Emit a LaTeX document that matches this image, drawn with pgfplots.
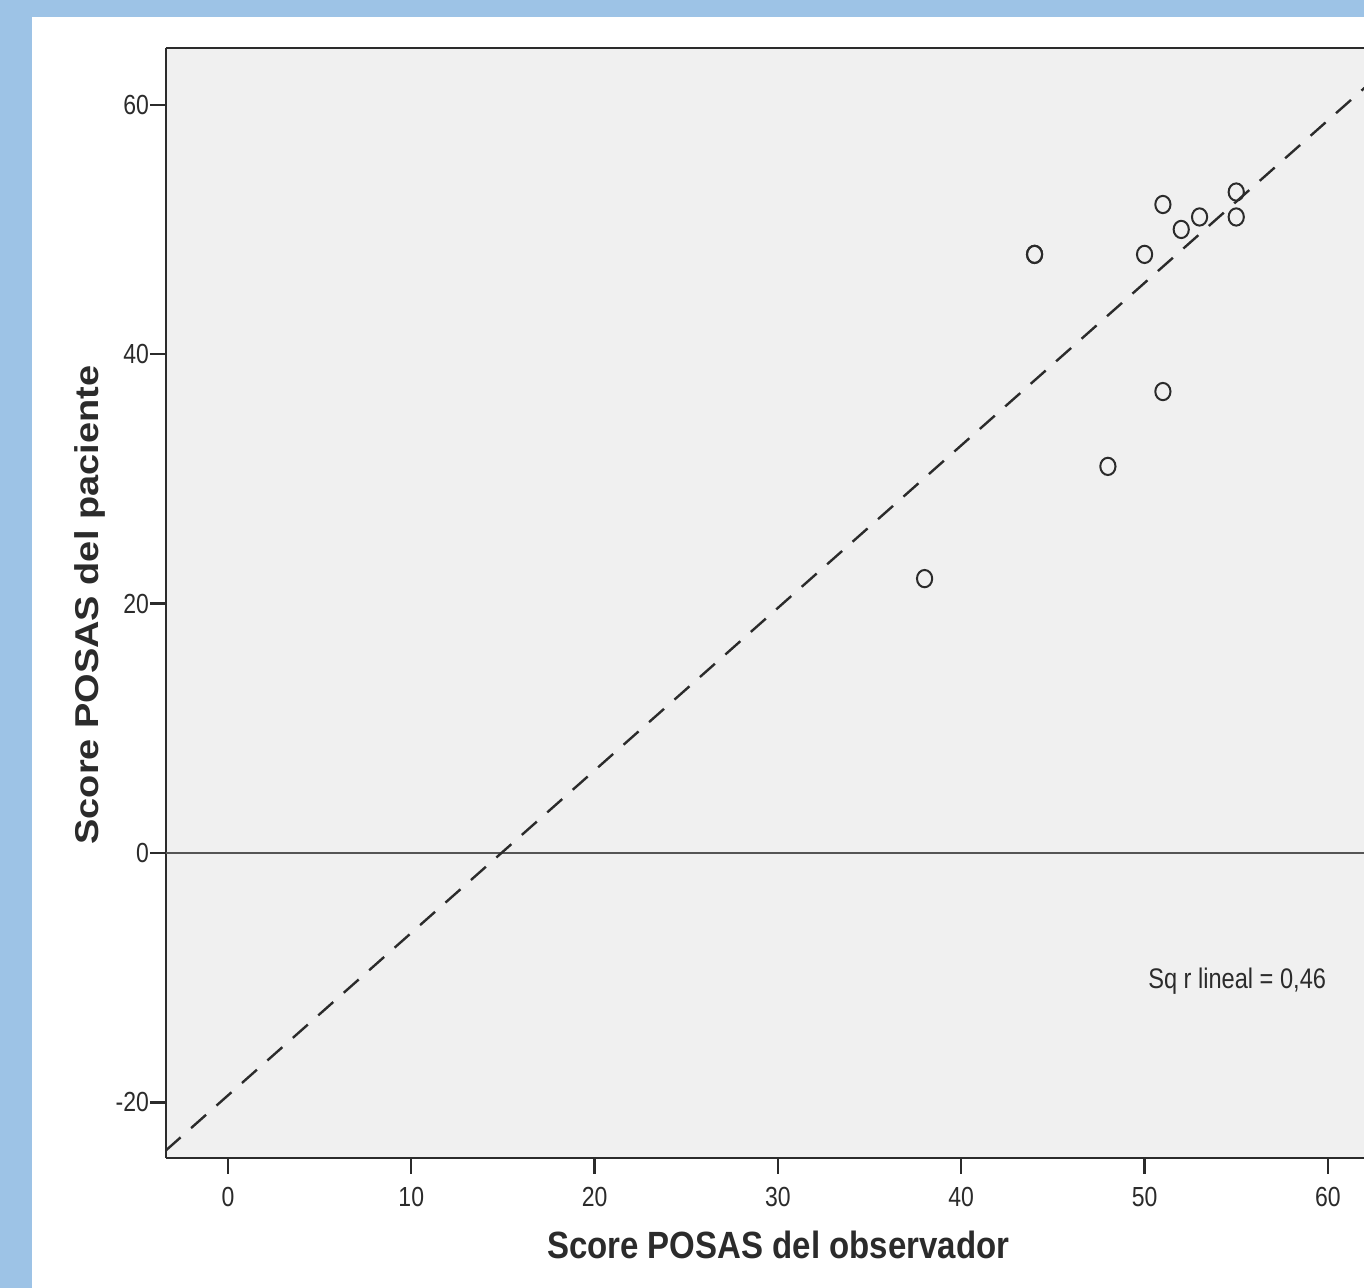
\documentclass[border=0pt]{standalone}
\usepackage{pgfplots}
\pgfplotsset{compat=1.18}
\usepackage{fontspec}
\setmainfont{Liberation Sans}
\definecolor{frameblue}{HTML}{9DC3E6}
\definecolor{plotbg}{HTML}{F0F0F0}
\definecolor{ink}{HTML}{2B2B2B}
\definecolor{zeroline}{HTML}{555555}

\begin{document}
\begin{tikzpicture}
\useasboundingbox (-83pt,-65pt) rectangle (599pt,579pt);
\fill[frameblue] (-83pt,-65pt) rectangle (599pt,579pt);
\fill[white] (-67pt,-65pt) rectangle (599pt,570.5pt);
\begin{axis}[
 scale only axis, width=599pt, height=555pt,
 xmin=-3.38, xmax=61.97, ymin=-24.46, ymax=64.55,
 axis x line*=bottom, axis y line*=left,
 axis line style={ink, line width=1.2pt},
 axis background/.style={fill=plotbg},
 xtick={0,10,...,60}, ytick={-20,0,20,40,60},
 tick align=outside, major tick length=8pt,
 every tick/.style={ink, line width=1.2pt},
 tick label style={font=\fontsize{11.5}{13}\selectfont, text=ink},
 xticklabel style={yshift=-3pt},
 yticklabel style={xshift=3pt},
 /pgf/number format/assume math mode=true,
 xticklabel={\scalebox{1}[1.2]{\pgfmathprintnumber{\tick}}},
 yticklabel={\scalebox{1}[1.2]{\pgfmathprintnumber{\tick}}},
 xlabel={\scalebox{1}[1.15]{Score POSAS del observador}},
 ylabel={\scalebox{1.15}[1]{Score POSAS del paciente}},
 every axis x label/.style={at={(axis description cs:0.511,0)}, yshift=-43.5pt, anchor=center, font=\bfseries\fontsize{16.5}{19}\selectfont, text=ink},
 every axis y label/.style={at={(axis description cs:0,0.498)}, xshift=-38pt, anchor=center, rotate=90, font=\bfseries\fontsize{16.5}{19}\selectfont, text=ink},
 extra description/.code={\draw[ink, line width=1.2pt] (rel axis cs:0,1) -- (rel axis cs:1,1);},
 clip=true,
]
\addplot[zeroline, line width=1pt] coordinates {(-3.38,0) (61.97,0)};
\addplot[ink, line width=1.2pt, dash pattern=on 10pt off 7pt] coordinates {(-3.4,-23.87) (62,61.35)};
\addplot[only marks, mark=o, mark size=4pt, mark options={ink, line width=1pt, xscale=0.95, yscale=1.08}] coordinates {
(38,22) (44,48) (44,48) (48,31) (50,48) (51,52) (51,37) (52,50) (53,51) (55,53) (55,51)};
\node[font=\fontsize{11.8}{13}\selectfont, text=ink] at (axis cs:55.05,-10.3) {\scalebox{1}[1.2]{Sq r lineal = 0,46}};
\end{axis}
\end{tikzpicture}
\end{document}
